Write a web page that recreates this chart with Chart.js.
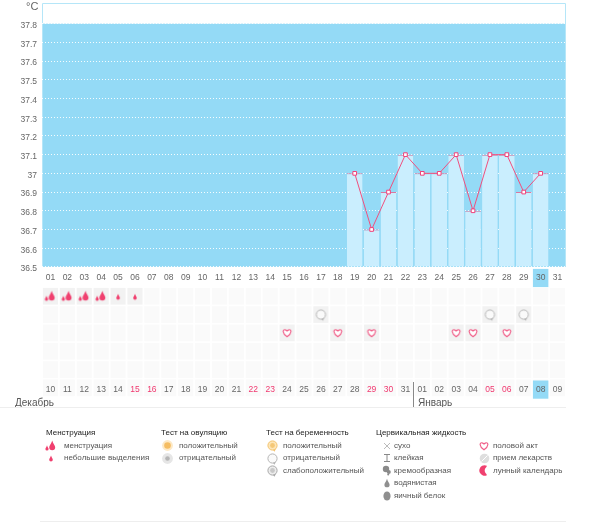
<!DOCTYPE html>
<html><head><meta charset="utf-8">
<style>html,body{margin:0;padding:0;background:#fff}canvas{display:block}</style>
<script src="https://cdn.jsdelivr.net/npm/chart.js@4"></script></head>
<body><canvas id="c" width="600" height="522"></canvas>
<script>
const days=['01','02','03','04','05','06','07','08','09','10','11','12','13','14','15','16','17','18','19','20','21','22','23','24','25','26','27','28','29','30','31'];
const dates=['10','11','12','13','14','15','16','17','18','19','20','21','22','23','24','25','26','27','28','29','30','31','01','02','03','04','05','06','07','08','09'];
const redDates=[5,6,12,13,19,20,26,27];
const temps=[null,null,null,null,null,null,null,null,null,null,null,null,null,null,null,null,null,null,37,36.7,36.9,37.1,37,37,37.1,36.8,37.1,37.1,36.9,37,null];
const yTicks=[36.5,36.6,36.7,36.8,36.9,37,37.1,37.2,37.3,37.4,37.5,37.6,37.7,37.8];
const menstruationDays=['01','02','03','04'];
const spottingDays=['05','06'];
const pregnancyNegativeDays=['17','27','29'];
const intercourseDays=['15','18','20','25','26','28'];
const FONT='"Liberation Sans"';
const PINK='#f0406f', GREY='#9a9a9a';
function sprite(w,h,fn){const c=document.createElement('canvas');c.width=w;c.height=h;const g=c.getContext('2d');fn(g,w/2,h/2);return c;}
function drop(g,x,y,r,col){g.fillStyle=col;g.beginPath();g.moveTo(x,y-r*2.2);g.bezierCurveTo(x+r*.3,y-r*1.1,x+r,y-r*.5,x+r,y+r*.1);g.arc(x,y+r*.1,r,0,Math.PI);g.bezierCurveTo(x-r,y-r*.5,x-r*.3,y-r*1.1,x,y-r*2.2);g.fill();}
function bubble(g,x,y,fill,line,inner){g.beginPath();g.arc(x,y,4.6,0,Math.PI*2);g.fillStyle=fill;g.fill();g.lineWidth=1;g.strokeStyle=line;g.stroke();g.beginPath();g.moveTo(x+.5,y+4.5);g.lineTo(x+2,y+6.3);g.lineTo(x+3.4,y+3.2);g.fillStyle=line;g.fill();if(inner){g.beginPath();g.arc(x,y,2.4,0,Math.PI*2);g.fillStyle=inner;g.fill();}}
const icons={
 menses:sprite(14,14,(g,x,y)=>{drop(g,x+1.2,y+1,3,PINK);drop(g,x-4,y+2.8,1.6,PINK);}),
 spot:sprite(8,10,(g,x,y)=>drop(g,x,y+1.5,1.8,PINK)),
 heart:sprite(12,12,(g,x,y)=>{g.beginPath();g.moveTo(x,y+3.8);g.bezierCurveTo(x-5.4,y,x-4.2,y-3.6,x-2,y-3.2);g.bezierCurveTo(x-1,y-3,x,y-2,x,y-1.6);g.bezierCurveTo(x,y-2,x+1,y-3,x+2,y-3.2);g.bezierCurveTo(x+4.2,y-3.6,x+5.4,y,x,y+3.8);g.closePath();g.fillStyle='#fff';g.fill();g.lineWidth=1.2;g.strokeStyle='#f0608a';g.stroke();}),
 pregNeg:sprite(15,15,(g,x,y)=>bubble(g,x,y,'#fafafa','#b4b4b4')),
 pregPos:sprite(15,15,(g,x,y)=>bubble(g,x,y,'#fde6b8','#f3c36f','#f5c877')),
 pregWeak:sprite(15,15,(g,x,y)=>bubble(g,x,y,'#ececec','#a8a8a8','#c8c8c8')),
 ovuPos:sprite(13,13,(g,x,y)=>{g.fillStyle='#fde9c6';g.beginPath();g.arc(x,y,5.4,0,7);g.fill();g.fillStyle='#f5bd62';g.beginPath();g.arc(x,y,3.3,0,7);g.fill();}),
 ovuNeg:sprite(13,13,(g,x,y)=>{g.fillStyle='#e6e6e6';g.beginPath();g.arc(x,y,5.4,0,7);g.fill();g.fillStyle='#b5b5b5';g.beginPath();g.arc(x,y,2.3,0,7);g.fill();}),
 dry:sprite(10,10,(g,x,y)=>{g.strokeStyle='#aaa';g.lineWidth=.8;g.beginPath();g.moveTo(x-3,y-3);g.lineTo(x+3,y+3);g.moveTo(x+3,y-3);g.lineTo(x-3,y+3);g.stroke();}),
 sticky:sprite(10,12,(g,x,y)=>{g.strokeStyle='#888';g.lineWidth=1;g.beginPath();g.moveTo(x-3,y-3.5);g.lineTo(x+3,y-3.5);g.moveTo(x,y-3.5);g.lineTo(x,y+3.5);g.moveTo(x-3,y+3.5);g.lineTo(x+3,y+3.5);g.stroke();}),
 cream:sprite(12,12,(g,x,y)=>{g.fillStyle='#8a8a8a';g.beginPath();g.arc(x-1,y-2,3.2,0,7);g.fill();g.beginPath();g.arc(x+1.8,y+1,2,0,7);g.fill();g.beginPath();g.arc(x+1.2,y+3.6,1,0,7);g.fill();}),
 water:sprite(10,12,(g,x,y)=>drop(g,x,y+1.5,2.6,'#8f8f8f')),
 egg:sprite(12,13,(g,x,y)=>{g.fillStyle='#8f8f8f';g.beginPath();g.ellipse(x,y+.5,3.6,4.6,0,0,7);g.fill();}),
 pill:sprite(13,13,(g,x,y)=>{g.fillStyle='#dedede';g.beginPath();g.arc(x,y,4.8,0,7);g.fill();g.strokeStyle='#fff';g.lineWidth=1;g.beginPath();g.moveTo(x-3,y+3);g.lineTo(x+3,y-3);g.stroke();}),
 moon:sprite(13,13,(g,x,y)=>{g.fillStyle=PINK;g.beginPath();g.arc(x,y,5.2,Math.PI*.35,Math.PI*1.65);g.arc(x+4.4,y,4.2,Math.PI*1.3,Math.PI*.7,true);g.fill();})
};
const legendGroups=[
 {title:'Менструация',x:46,ix:51,tx:64,items:[['менструация','menses'],['небольшие выделения','spot']]},
 {title:'Тест на овуляцию',x:161,ix:167,tx:179,items:[['положительный','ovuPos'],['отрицательный','ovuNeg']]},
 {title:'Тест на беременность',x:266,ix:272,tx:283,items:[['положительный','pregPos'],['отрицательный','pregNeg'],['слабоположительный','pregWeak']]},
 {title:'Цервикальная жидкость',x:376,ix:387,tx:394,items:[['сухо','dry'],['клейкая','sticky'],['кремообразная','cream'],['водянистая','water'],['яичный белок','egg']]},
 {title:'',x:484,ix:484,tx:493,items:[['половой акт','heart'],['прием лекарств','pill'],['лунный календарь','moon']]}
];
const legendY=[445.5,458,470.5,483,495.5];
const markedRows=[menstruationDays.concat(spottingDays),pregnancyNegativeDays,intercourseDays,[],[],[]];
const rowCount=6;
const backdrop={id:'backdrop',beforeDraw(ch){
 const g=ch.ctx,{x,y,yRows}=ch.scales,a=ch.chartArea;
 g.save();
 g.fillStyle='#94daf6';g.fillRect(a.left,y.getPixelForValue(37.8),a.right-a.left,y.getPixelForValue(36.5)-y.getPixelForValue(37.8));
 g.strokeStyle='#b5e6f8';g.lineWidth=1;g.beginPath();g.moveTo(a.left+.5,y.getPixelForValue(36.5));g.lineTo(a.left+.5,3.5);g.lineTo(a.right-.5,3.5);g.lineTo(a.right-.5,y.getPixelForValue(36.5));g.stroke();
 const w=x.getPixelForValue(1)-x.getPixelForValue(0);
 for(let r=0;r<rowCount;r++){days.forEach((d,i)=>{
   const cx=x.getPixelForValue(i);g.fillStyle=markedRows[r].includes(d)?'#f2f2f2':'#fafafa';
   const t=yRows.getPixelForValue(r),b=yRows.getPixelForValue(r+.91);
   g.fillRect(cx-w/2+.9,t,w-1.8,b-t);});}
 g.restore();
},afterDraw(ch){
 const g=ch.ctx;g.save();
 g.textBaseline='middle';g.fillStyle='#666';
 g.font='11px '+FONT;g.fillText('°C',26,6.5);
 g.font='10px '+FONT;g.fillStyle='#555';g.fillText('Декабрь',15,403);g.fillText('Январь',418,403);
 g.strokeStyle='#888';g.beginPath();g.moveTo(413.5,382);g.lineTo(413.5,407);g.stroke();
 g.strokeStyle='#eee';g.beginPath();g.moveTo(0,407.5);g.lineTo(566,407.5);g.moveTo(40,521.5);g.lineTo(566,521.5);g.stroke();
 legendGroups.forEach(gr=>{
   g.font='8px '+FONT;g.fillStyle='#222';if(gr.title)g.fillText(gr.title,gr.x,433);
   gr.items.forEach((it,i)=>{const im=icons[it[1]];g.drawImage(im,Math.round(gr.ix-im.width/2),Math.round(legendY[i]-im.height/2));
     g.font='8px '+FONT;g.fillStyle='#555';g.fillText(it[0],gr.tx,legendY[i]);});
 });
 g.restore();
}};
const marks=(list,row,icon)=>({type:'line',showLine:false,yAxisID:'yRows',xAxisID:'x',data:list.map(d=>({x:d,y:row})),pointStyle:icon,pointRadius:6,pointHoverRadius:6,order:2});
new Chart(document.getElementById('c'),{
 type:'bar',
 data:{labels:days,datasets:[
  {type:'line',data:temps,yAxisID:'y',xAxisID:'x',borderColor:'#f0507f',borderWidth:1,tension:0,spanGaps:false,pointStyle:'rect',pointRadius:2.6,pointBackgroundColor:'#fff',pointBorderColor:'#f0407a',pointBorderWidth:1,order:0},
  {type:'bar',data:temps,yAxisID:'y',xAxisID:'x',backgroundColor:'#caeefe',borderColor:'#d878a0',borderWidth:{top:1,left:0,right:0,bottom:0},borderSkipped:false,barPercentage:.93,categoryPercentage:1,base:36.5,order:1},
  marks(menstruationDays,.455,icons.menses),
  marks(spottingDays,.455,icons.spot),
  marks(pregnancyNegativeDays,1.455,icons.pregNeg),
  marks(intercourseDays,2.455,icons.heart)
 ]},
 plugins:[backdrop],
 options:{responsive:false,animation:false,devicePixelRatio:1,
  layout:{padding:{left:0,right:34,top:3,bottom:124}},
  plugins:{legend:{display:false},tooltip:{enabled:false}},
  scales:{
   yRows:{type:'linear',position:'left',stack:'s',stackWeight:131,reverse:true,min:-1.148,max:6.01,ticks:{display:false},grid:{display:false},border:{display:false},afterFit(s){s.width=42;s.paddingTop=0;s.paddingBottom=0;}},
   y:{type:'linear',position:'left',stack:'s',stackWeight:259.7,min:36.5,max:37.889,
      afterBuildTicks(s){s.ticks=yTicks.map(v=>({value:v}));},
      ticks:{autoSkip:false,font:{family:FONT,size:8.5},color:'#666',padding:5,labelOffset:2,callback:v=>String(+(+v).toFixed(1))},
      grid:{color:'rgba(255,255,255,.9)',lineWidth:1,drawTicks:false},border:{display:false,dash:[1,2]},afterFit(s){s.width=42;s.paddingTop=0;s.paddingBottom=0;}},
   x:{type:'category',labels:days,position:{y:36.5},offset:true,grid:{display:false,drawTicks:false},border:{display:false},
      ticks:{autoSkip:false,maxRotation:0,font:{family:FONT,size:8.5},color:'#666',padding:6,
        showLabelBackdrop:c=>c.index===29,backdropColor:'#94daf6',backdropPadding:{x:3,y:4}}},
   x2:{type:'category',labels:dates,position:{yRows:5},offset:true,grid:{display:false,drawTicks:false},border:{display:false},
      ticks:{autoSkip:false,maxRotation:0,font:{family:FONT,size:8.5},padding:5,
        color:c=>redDates.includes(c.index)?'#f0386f':'#666',
        showLabelBackdrop:c=>c.index===29,backdropColor:'#94daf6',backdropPadding:{x:3,y:4}}}
  }
 }
});
</script></body></html>
